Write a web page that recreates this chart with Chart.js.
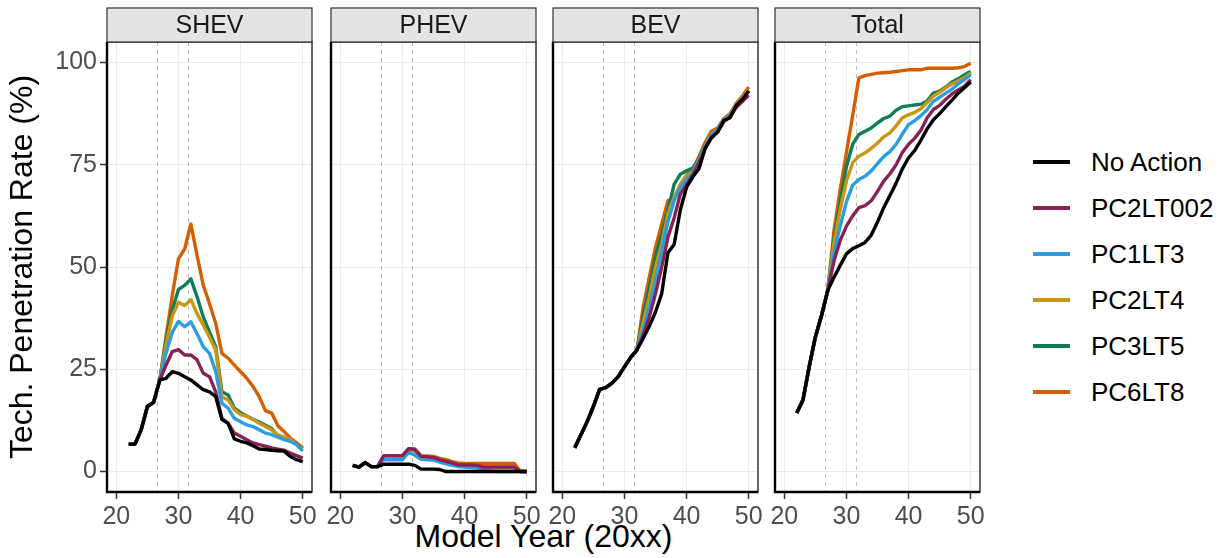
<!DOCTYPE html>
<html>
<head>
<meta charset="utf-8">
<script src="https://cdn.jsdelivr.net/npm/chart.js@4.4.1/dist/chart.umd.min.js"></script>
<style>
  body { margin: 0; background: #fff; font-family: "Liberation Sans", Arial, sans-serif; }
  #wrap { position: relative; width: 1221px; height: 558px; overflow: hidden; }
  #wrap canvas { position: absolute; top: 0; }
  #xTitle { position: absolute; left: 107px; width: 873px; top: 520px; line-height: 32px;
            text-align: center; font-size: 32px; color: #000; }
  #legend { position: absolute; left: 1033px; top: 139px; }
  .row { height: 46px; display: flex; align-items: center; }
  .swatch { width: 37px; height: 4px; margin-right: 21px; }
  .label { font-size: 26px; color: #000; }
</style>
</head>
<body>
<div id="wrap">
  <div id="xTitle">Model Year (20xx)</div>
  <div id="legend"></div>
</div>
<script>
const years = [22,23,24,25,26,27,28,29,30,31,32,33,34,35,36,37,38,39,40,41,42,43,44,45,46,47,48,49,50];
const seriesNames = ['No Action', 'PC2LT002', 'PC1LT3', 'PC2LT4', 'PC3LT5', 'PC6LT8'];
const seriesColors = ['#000000', '#882255', '#2b9de0', '#c99612', '#0f7d5b', '#d55e00'];
const panelNames = ['SHEV', 'PHEV', 'BEV', 'Total'];
const xTicks = [20, 30, 40, 50];
const yTicks = [0, 25, 50, 75, 100];
const refYears = [26.5, 31.5];

// SHEV
const shevNoAction = [6.7,6.7,10.2,15.9,16.9,22.4,22.8,24.4,24.0,23.2,22.4,21.2,20.0,19.5,18.3,12.7,11.8,8.0,7.4,7.0,6.3,5.5,5.4,5.2,5.1,5.0,3.7,2.9,2.4];
const shevPC2LT002 = [6.7,6.7,10.2,15.9,16.9,22.4,26,29.3,29.8,28.5,28.5,27.3,24,23.2,19.5,13,11.8,9.4,8.6,7.8,7,6.6,6.2,5.8,5.5,5.2,4.5,3.9,3.3];
const shevPC1LT3 = [6.7,6.7,10.2,15.9,16.9,22.4,29,34,36.7,35.4,36.6,33.7,30.5,28.9,24.4,16.7,15.5,13,12.2,11.4,11,10.2,9.4,9,8.4,7.8,7.4,6.6,5];
const shevPC2LT4 = [6.7,6.7,10.2,15.9,16.9,22.4,31,38,41.4,40.6,42,38.6,35.8,32.9,29.7,18.3,17.5,15.1,13.9,13.5,12.7,11.8,11,10.2,9,8.4,7.8,6.6,5.5];
const shevPC3LT5 = [6.7,6.7,10.2,15.9,16.9,22.4,32,39.5,44.5,45.5,47.1,42.7,37.8,34.1,30.5,19.5,18.7,15.5,14.4,13.6,12.8,12.1,11.3,10.5,8.7,8.1,7.5,6.7,5.6];
const shevPC6LT8 = [6.7,6.7,10.2,15.9,16.9,22.4,33,43,52,54.4,60.5,52.8,45.5,41,36.2,28.9,27.7,26,24.4,22.8,20.8,18.3,14.9,14.3,11.2,9.8,8.2,7,5.8];

// PHEV
const phevNoAction = [1.5,1.1,2.2,1.2,1.2,1.8,1.8,1.8,1.8,1.8,1.5,0.6,0.6,0.6,0.5,0,0,0,0,0,0,0,0,0,0,0,0,0,0];
const phevPC2LT002 = [1.5,1.1,2.2,1.2,1.2,3.9,3.9,3.9,3.9,5.6,5.4,3.7,3.6,3.4,2.9,2.5,2.1,1.6,1.6,1.6,1.5,1.1,1.1,1.1,1.1,1.1,1.1,0,0];
const phevPC1LT3 = [1.5,1.1,2.2,1.2,1.2,2.9,2.9,2.9,2.9,4.7,4.0,3.0,2.9,2.8,2.3,1.9,1.5,1.2,1.1,1.0,0.9,0.5,0.3,0,0,0,0,0,0];
const phevPC2LT4 = [1.5,1.1,2.2,1.2,1.2,3.4,3.4,3.4,3.4,5.2,5.0,3.4,3.3,3.1,2.6,2.2,1.8,1.5,1.4,1.4,1.3,0.9,0.9,0.9,0.9,0.9,0.9,0,0];
const phevPC3LT5 = [1.5,1.1,2.2,1.2,1.2,3.6,3.6,3.6,3.6,5.4,5.2,3.5,3.4,3.2,2.7,2.3,1.9,1.6,1.5,1.5,1.4,1.0,1.0,1.0,1.0,1.0,1.0,0,0];
const phevPC6LT8 = [1.5,1.1,2.2,1.2,1.2,3.9,3.9,3.9,3.9,5.6,5.5,3.9,3.8,3.7,3.2,2.9,2.4,2.1,2.0,2.0,2.0,2.0,2.0,2.0,2.0,2.0,2.0,0,0];

// BEV
const bevNoAction = [5.8,9,12.2,15.9,20.1,20.5,21.6,23.2,25.6,27.9,29.7,32.5,35.5,39,43.5,53.5,55.5,64,69.5,72,74,79,81.5,83,85.8,86.5,89.5,91,93];
const bevPC2LT002 = [5.8,9,12.2,15.9,20.1,20.5,21.6,23.2,25.6,27.9,29.7,33.3,37.8,43.5,50,57.3,62,67.8,70.2,72.5,75.5,79,81.8,83,85.5,86.8,89,90.5,92];
const bevPC1LT3 = [5.8,9,12.2,15.9,20.1,20.5,21.6,23.2,25.6,27.9,29.7,34.5,40.2,46.7,54,61,66.2,69.4,71.5,73,76,79.5,82.3,83.5,86,87,89.5,91,93];
const bevPC2LT4 = [5.8,9,12.2,15.9,20.1,20.5,21.6,23.2,25.6,27.9,29.7,36.2,42.7,50,55.6,63,67,70.2,72.3,73.3,76.2,79.6,82.5,83.6,86,87.2,89.6,91.4,93.3];
const bevPC3LT5 = [5.8,9,12.2,15.9,20.1,20.5,21.6,23.2,25.6,27.9,29.7,37.8,45,52.4,58,64,70.2,72.7,73.5,74.2,76.4,79.8,82.4,83.4,85.8,86.6,89.4,91.2,93];
const bevPC6LT8 = [5.8,9,12.2,15.9,20.1,20.5,21.6,23.2,25.6,27.9,29.7,40,47.5,54.8,60.5,66.2,67,70,72.5,73.8,77,80.5,83.2,84,86.3,87.5,90,91.8,94];

// Total
const totalNoAction = [14.3,17.5,25.6,32.9,38.2,44.3,47.5,50.4,53.2,54.5,55.2,56,57.8,61,64.5,67.5,70.5,74,76.7,78.5,81,83.8,86,87.5,89.2,90.8,92.5,93.8,95.2];
const totalPC2LT002 = [14.3,17.5,25.6,32.9,38.2,44.3,51.5,56.5,60,62.5,64.5,65,66.2,68.5,71,72.8,75,78,80,81.5,83.5,86.5,88.5,89.5,91,92.3,93.3,94.2,95.8];
const totalPC1LT3 = [14.3,17.5,25.6,32.9,38.2,44.3,53.5,60,66,70,71.4,72.2,73.5,75.3,77,78.2,80,82.5,84.8,85.8,87,88.5,90.5,91.5,92.5,93.5,94.8,95.8,97];
const totalPC2LT4 = [14.3,17.5,25.6,32.9,38.2,44.3,56,64,71,75.5,77.1,77.9,79,80.3,81.8,82.8,84.5,86.5,87.2,87.8,88.7,90.2,91.8,92.7,93.8,94.8,95.5,96.3,97.4];
const totalPC3LT5 = [14.3,17.5,25.6,32.9,38.2,44.3,57,66,74.5,80,82.4,83.2,84,85.2,86.3,86.9,88.3,89.2,89.4,89.6,89.8,90.6,92.5,93,94,95.2,96,97,97.8];
const totalPC6LT8 = [14.3,17.5,25.6,32.9,38.2,44.3,59,69,78,87,96.2,96.8,97.1,97.4,97.5,97.6,97.8,98,98.2,98.2,98.2,98.6,98.6,98.6,98.6,98.6,98.7,99,99.8];

const panelSeries = [
  [shevNoAction, shevPC2LT002, shevPC1LT3, shevPC2LT4, shevPC3LT5, shevPC6LT8],
  [phevNoAction, phevPC2LT002, phevPC1LT3, phevPC2LT4, phevPC3LT5, phevPC6LT8],
  [bevNoAction, bevPC2LT002, bevPC1LT3, bevPC2LT4, bevPC3LT5, bevPC6LT8],
  [totalNoAction, totalPC2LT002, totalPC1LT3, totalPC2LT4, totalPC3LT5, totalPC6LT8]
];

const FONT = '"Liberation Sans", Arial, sans-serif';
const panelLeft = [107, 331, 553, 775];
const panelW = 205;
const side = 24;
const plotTop = 42;
const stripTop = 8;
const canvasH = 558;

// strip, dashed reference lines and panel frame
const facetDeco = {
  id: 'facetDeco',
  beforeDatasetsDraw(chart) {
    const { ctx, chartArea: a } = chart;
    const x = chart.scales.x;
    ctx.save();
    ctx.strokeStyle = '#bdbdbd';
    ctx.lineWidth = 1;
    ctx.setLineDash([4, 4]);
    refYears.forEach(v => {
      const px = Math.round(x.getPixelForValue(v)) + 0.5;
      ctx.beginPath();
      ctx.moveTo(px, a.top);
      ctx.lineTo(px, a.bottom);
      ctx.stroke();
    });
    ctx.restore();
  },
  afterDraw(chart, args, opts) {
    const { ctx, chartArea: a } = chart;
    ctx.save();
    // panel frame
    ctx.strokeStyle = '#333';
    ctx.lineWidth = 1.5;
    ctx.strokeRect(a.left, a.top, a.right - a.left, a.bottom - a.top);
    ctx.strokeStyle = '#000';
    ctx.lineWidth = 2.4;
    ctx.beginPath();
    ctx.moveTo(a.left, a.top);
    ctx.lineTo(a.left, a.bottom);
    ctx.lineTo(a.right, a.bottom);
    ctx.stroke();
    // strip
    ctx.fillStyle = '#e4e4e4';
    ctx.fillRect(a.left, stripTop, a.right - a.left, a.top - stripTop);
    ctx.strokeStyle = '#333';
    ctx.lineWidth = 1.2;
    ctx.strokeRect(a.left, stripTop, a.right - a.left, a.top - stripTop);
    ctx.fillStyle = '#1a1a1a';
    ctx.font = '25px ' + FONT;
    ctx.textAlign = 'center';
    ctx.textBaseline = 'middle';
    ctx.fillText(opts.name, (a.left + a.right) / 2, (stripTop + a.top) / 2 + 1);
    ctx.restore();
  }
};

panelNames.forEach((name, p) => {
  const first = p === 0;
  const canvas = document.createElement('canvas');
  const left = first ? 0 : panelLeft[p] - side;
  const width = first ? panelLeft[0] + panelW + side : panelW + 2 * side;
  canvas.width = width;
  canvas.height = canvasH;
  canvas.style.left = left + 'px';
  document.getElementById('wrap').appendChild(canvas);

  const datasets = seriesNames.map((s, i) => ({
    label: s,
    data: years.map((yr, j) => ({ x: yr, y: panelSeries[p][i][j] })),
    borderColor: seriesColors[i],
    backgroundColor: seriesColors[i],
    borderWidth: 3.4,
    pointRadius: 0,
    tension: 0,
    borderJoinStyle: 'round',
    fill: false
  }));

  new Chart(canvas.getContext('2d'), {
    type: 'line',
    data: { datasets },
    plugins: [facetDeco],
    options: {
      responsive: false,
      animation: false,
      devicePixelRatio: 1,
      layout: { padding: { top: plotTop, left: first ? 0 : side, right: side, bottom: 0 } },
      plugins: {
        legend: { display: false },
        tooltip: { enabled: false },
        facetDeco: { name }
      },
      scales: {
        x: {
          type: 'linear',
          min: 18.5,
          max: 51.5,
          afterBuildTicks: s => { s.ticks = xTicks.map(v => ({ value: v })); },
          afterFit: s => { s.height = canvasH - 492; },
          grid: { color: '#ebebeb', lineWidth: 1, tickColor: '#333', tickWidth: 1.5, tickLength: 7 },
          border: { display: false },
          ticks: { color: '#4d4d4d', font: { family: FONT, size: 25 }, padding: 3, maxRotation: 0 }
        },
        y: {
          min: -5,
          max: 105,
          afterBuildTicks: s => { s.ticks = yTicks.map(v => ({ value: v })); },
          afterFit: s => { s.width = first ? panelLeft[0] : 0; },
          grid: { color: '#ebebeb', lineWidth: 1, tickColor: '#333', tickWidth: 1.5, tickLength: 7, drawTicks: first },
          border: { display: false },
          ticks: { display: first, color: '#4d4d4d', font: { family: FONT, size: 25 }, padding: 3 },
          title: {
            display: first,
            text: 'Tech. Penetration Rate (%)',
            color: '#000',
            font: { family: FONT, size: 32 },
            padding: { top: 4, bottom: 0 }
          }
        }
      }
    }
  });
});

// legend
const legend = document.getElementById('legend');
seriesNames.forEach((s, i) => {
  const row = document.createElement('div');
  row.className = 'row';
  row.innerHTML = `<div class="swatch" style="background:${seriesColors[i]}"></div><div class="label">${s}</div>`;
  legend.appendChild(row);
});
</script>
</body>
</html>
